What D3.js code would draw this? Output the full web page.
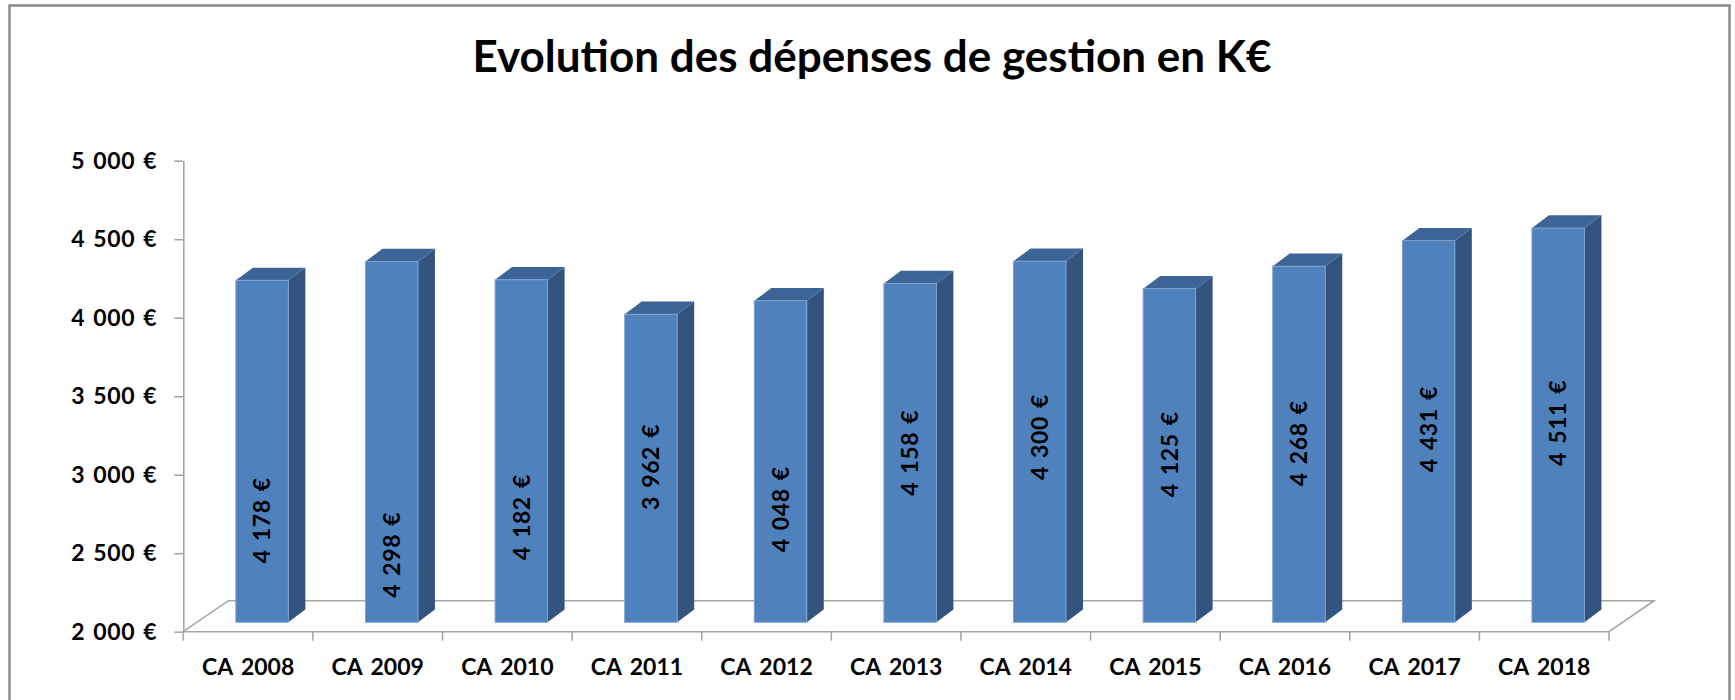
<!DOCTYPE html>
<html>
<head>
<meta charset="utf-8">
<script src="https://cdn.jsdelivr.net/npm/d3@7/dist/d3.min.js"></script>
<style>
body { margin: 0; background: #fff; }
text { font-family: Lato, "Open Sans", sans-serif; font-weight: bold; fill: #000; }
.num { letter-spacing: 0.6px; word-spacing: 2px; }
</style>
</head>
<body>
<script>
"use strict";

const years = ["CA 2008", "CA 2009", "CA 2010", "CA 2011", "CA 2012", "CA 2013",
               "CA 2014", "CA 2015", "CA 2016", "CA 2017", "CA 2018"];
const depenses = [4178, 4298, 4182, 3962, 4048, 4158, 4300, 4125, 4268, 4431, 4511];
// level (in €, on the value axis) where each bar's label is centred
const labelLevels = [2650, 2430, 2670, 2990, 2720, 3080, 3180, 3070, 3140, 3230, 3270];
const yTicks = [2000, 2500, 3000, 3500, 4000, 4500, 5000];
const title = "Evolution des dépenses de gestion en K€";

const width = 1735, height = 700;

let svg = d3.select("body").append("svg")
    .attr("width", width).attr("height", height);

// chart frame (bottom edge runs off the picture)
svg.append("rect")
    .attr("x", 9.5).attr("y", 5.5)
    .attr("width", 1720).attr("height", 760)
    .attr("fill", "#fff").attr("stroke", "#8a8a8a").attr("stroke-width", 2.5);

let x = d3.scaleBand().domain(years).range([183.3, 1609]).padding(0);
let y = d3.scaleLinear().domain([2000, 5000]).range([631.7, 160.7]);

const floorDx = 45, floorDy = -31;   // depth of the floor
const frontDx = 14, frontDy = -9.4;  // bars sit a bit behind the front edge
const barDx = 17, barDy = -12.7;     // depth of a bar
const barW = 52.5;

let fr = d3.formatLocale({decimal: ",", thousands: " ", grouping: [3], currency: ["", " €"]});
let fmt = v => fr.format(",d")(v) + " €";

// title
svg.append("text")
    .attr("x", 872).attr("y", 72)
    .attr("text-anchor", "middle")
    .style("font-size", "44px")
    .text(title);

// floor
let x0 = x.range()[0], x1 = x.range()[1], yb = y(2000);
svg.append("path")
    .attr("d", `M${x0},${yb}L${x1},${yb}L${x1 + floorDx},${yb + floorDy}L${x0 + floorDx},${yb + floorDy}Z`)
    .attr("fill", "#fff").attr("stroke", "#a6a6a6").attr("stroke-width", 1.6);

// bars
let bars = svg.append("g").selectAll("g")
    .data(depenses)
    .enter()
    .append("g");

let barLeft = (d, i) => x(years[i]) + x.bandwidth() / 2 + frontDx - barW / 2;
let barTop = d => y(d) + frontDy;
let barBottom = yb + frontDy;

bars.append("path") // side
    .attr("d", (d, i) => {
        let r = barLeft(d, i) + barW;
        return `M${r},${barTop(d)}L${r + barDx},${barTop(d) + barDy}L${r + barDx},${barBottom + barDy}L${r},${barBottom}Z`;
    })
    .attr("fill", "#32547f");

bars.append("path") // top
    .attr("d", (d, i) => {
        let l = barLeft(d, i);
        return `M${l},${barTop(d)}L${l + barW},${barTop(d)}L${l + barW + barDx},${barTop(d) + barDy}L${l + barDx},${barTop(d) + barDy}Z`;
    })
    .attr("fill", "#3c6496");

bars.append("rect") // front
    .attr("x", (d, i) => barLeft(d, i))
    .attr("y", d => barTop(d))
    .attr("width", barW)
    .attr("height", d => barBottom - barTop(d))
    .attr("fill", "#4f81bd")
    .attr("stroke", "#7fa3cf").attr("stroke-width", 1);

// value labels, rotated
bars.append("text")
    .attr("class", "num")
    .attr("transform", (d, i) => `translate(${barLeft(d, i) + barW / 2},${y(labelLevels[i]) + frontDy}) rotate(-90)`)
    .attr("text-anchor", "middle")
    .attr("dy", "0.36em")
    .style("font-size", "23px")
    .text(d => fmt(d));

// value axis
let yAxis = svg.append("g")
    .attr("transform", `translate(${x0},0)`)
    .call(d3.axisLeft(y).tickValues(yTicks).tickFormat(fmt).tickSize(9).tickSizeOuter(0).tickPadding(17));
yAxis.selectAll("line, path").attr("stroke", "#a6a6a6").attr("stroke-width", 1.6);
yAxis.selectAll("text").attr("class", "num").style("font-size", "23px").attr("fill", "#000");

// category axis
let xAxis = svg.append("g")
    .attr("transform", `translate(0,${yb})`)
    .call(d3.axisBottom(x).tickSize(0).tickPadding(27));
xAxis.select(".domain").remove();
xAxis.selectAll("text").style("font-size", "23px").style("word-spacing", "3px").attr("fill", "#000");

svg.append("g").selectAll("line")
    .data(d3.range(years.length + 1))
    .enter()
    .append("line")
    .attr("x1", i => x0 + i * x.step()).attr("x2", i => x0 + i * x.step())
    .attr("y1", yb).attr("y2", yb + 9)
    .attr("stroke", "#a6a6a6").attr("stroke-width", 1.6);
</script>
</body>
</html>
